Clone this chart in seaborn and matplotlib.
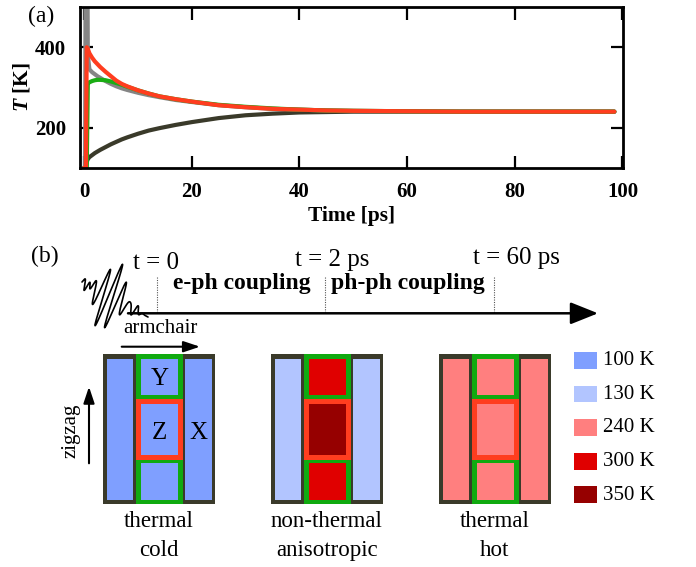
import numpy as np
import pandas as pd
import matplotlib
matplotlib.use("Agg")
import matplotlib.pyplot as plt
import seaborn as sns
from matplotlib.patches import Rectangle

# ---------------- panel (a) data ----------------
time_ps = [0, 0.2, 0.35, 0.5, 0.7, 1, 1.5, 2, 2.5, 3, 4, 5, 6, 7, 8, 10, 12, 14,
           17, 20, 25, 30, 35, 40, 45, 50, 60, 70, 80, 90, 98.5]
T_electrons = [100, 100, 1000, 1000, 380, 345, 338, 333, 328, 324, 316, 309, 303, 298,
               294, 287, 281, 276, 269, 264, 256, 251, 247, 245, 243, 242, 241, 240,
               240, 240, 240]
T_X = [100, 100, 100, 115, 122, 127, 132, 137, 141, 145, 152, 159, 165, 171, 176,
       185, 193, 199, 207, 214, 224, 231, 235, 238, 239, 240, 240, 240, 240, 240, 240]
T_Y = [100, 100, 100, 100, 310, 313, 316, 318, 319, 319, 318, 315, 311, 307, 302,
       293, 285, 278, 271, 265, 257, 252, 248, 245, 243, 242, 241, 240, 240, 240, 240]
T_Z = [100, 100, 100, 400, 396, 385, 374, 365, 358, 351, 339, 328, 317, 309, 303,
       293, 285, 278, 271, 265, 256, 251, 247, 245, 243, 242, 241, 240, 240, 240, 240]
series_names = ["X", "electrons", "Y", "Z"]
series_colors = {"X": "#3a3a2a", "electrons": "#858585", "Y": "#1aad14", "Z": "#ff3d1f"}
x_ticks = [0, 20, 40, 60, 80, 100]
y_ticks = [200, 400]

# ---------------- panel (b) data ----------------
state_line1 = ["thermal", "non-thermal", "thermal"]
state_line2 = ["cold", "anisotropic", "hot"]
temp_X = [100, 130, 240]
temp_Y = [100, 300, 240]
temp_Z = [100, 350, 240]
legend_temps = [100, 130, 240, 300, 350]
legend_colors = ["#7f9fff", "#b2c5ff", "#ff7f7f", "#e00000", "#960000"]
time_labels = ["t = 0", "t = 2 ps", "t = 60 ps"]
stage_labels = ["e-ph coupling", "ph-ph coupling"]

temp_color = dict(zip(legend_temps, legend_colors))

sns.set_style("ticks")
plt.rcParams["font.family"] = ["Liberation Serif", "DejaVu Serif"]
plt.rcParams["mathtext.fontset"] = "custom"
plt.rcParams["mathtext.rm"] = "Liberation Serif"
plt.rcParams["mathtext.it"] = "Liberation Serif:italic"
plt.rcParams["mathtext.bf"] = "Liberation Serif:bold"
plt.rcParams["mathtext.bfit"] = "Liberation Serif:italic:bold"
for key in ["text.color", "axes.labelcolor", "xtick.color", "ytick.color",
            "axes.edgecolor"]:
    plt.rcParams[key] = "black"

fig = plt.figure(figsize=(6.96, 5.67), dpi=100)
W, H = 696, 567

# ---------------- panel (a) ----------------
ax = fig.add_axes([80 / W, 1 - 168 / H, (623 - 80) / W, (168 - 7) / H])
ax.set_zorder(2)
df = pd.DataFrame({
    "time": time_ps * 4,
    "T": T_X + T_electrons + T_Y + T_Z,
    "series": sum([[n] * len(time_ps) for n in ["X", "electrons", "Y", "Z"]], []),
})
sns.lineplot(data=df, x="time", y="T", hue="series", hue_order=series_names,
             palette=series_colors, linewidth=3.0, legend=False, sort=False,
             ax=ax, solid_capstyle="round")
ax.set_xlim(-0.75, 100.1)
ax.set_ylim(100, 500)
ax.set_xticks(x_ticks)
ax.set_yticks(y_ticks)
ax.tick_params(direction="in", length=9, width=1.6, top=True, right=True,
               labelsize=15, pad=10)
for lab in ax.get_xticklabels() + ax.get_yticklabels():
    lab.set_fontweight("bold")
for s in ax.spines.values():
    s.set_linewidth(2.0)
ax.set_xlabel("Time [ps]", fontsize=15.5, fontweight="bold", labelpad=3)
ax.set_ylabel(r"$\mathbfit{T}$ [K]", fontsize=15.5, fontweight="bold", labelpad=2)

# ---------------- panel (b) (pixel coordinates) ----------------
bx = fig.add_axes([0, 0, 1, 1])
bx.set_zorder(1)
bx.set_xlim(0, W)
bx.set_ylim(H, 0)
bx.axis("off")
bx.patch.set_alpha(0)

bx.text(41, 16, "(a)", fontsize=17, ha="center", va="center")
bx.text(45, 256, "(b)", fontsize=17, ha="center", va="center")

# timeline
bx.annotate("", xy=(598, 313.3), xytext=(128, 313.3),
            arrowprops=dict(arrowstyle="-|>,head_length=1.0,head_width=0.4",
                            lw=1.8, color="black", mutation_scale=17,
                            shrinkA=0, shrinkB=0))
for xm in [157.3, 325, 494.3]:
    bx.plot([xm, xm], [277, 313], color="#555555", lw=0.8, ls=(0, (1, 1.2)))
for lab, (xl, yb) in zip(time_labels, [(133, 269), (295, 266), (473, 264)]):
    bx.text(xl, yb, lab, fontsize=18, ha="left", va="baseline")
for lab, xl in zip(stage_labels, [173, 331]):
    bx.text(xl, 288.5, lab, fontsize=17, fontweight="bold", ha="left", va="baseline")

# laser pulse glyph
s = np.linspace(0, 1, 1500)
env = np.exp(-((s - 0.42) / 0.2) ** 2)
osc = env * np.sin(2 * np.pi * 7.5 * s) \
    + 0.2 * np.sin(2 * np.pi * 12 * s) * np.exp(-((s - 0.08) / 0.07) ** 2) \
    + 0.15 * np.sin(2 * np.pi * 10 * s) * np.exp(-((s - 0.8) / 0.08) ** 2)
px = 82 + 66 * s + 12 * osc
py = 282 + 35 * s - 33 * osc
bx.plot(px, py, color="black", lw=1.2)

# direction arrows
bx.text(160, 333, "armchair", fontsize=15, ha="center", va="baseline")
bx.annotate("", xy=(200, 346.7), xytext=(121.7, 346.7),
            arrowprops=dict(arrowstyle="-|>,head_length=0.9,head_width=0.3",
                            lw=1.5, color="black", mutation_scale=11,
                            shrinkA=0, shrinkB=0))
bx.annotate("", xy=(89, 386.7), xytext=(89, 463.3),
            arrowprops=dict(arrowstyle="-|>,head_length=0.9,head_width=0.3",
                            lw=1.5, color="black", mutation_scale=11,
                            shrinkA=0, shrinkB=0))
bx.text(71, 431, "zigzag", fontsize=15, rotation=90, ha="center", va="center")

# cells
frame_c = "#3a3a2a"
green_c = "#10aa10"
red_c = "#ff3d1f"
y0, hgt, wid = 354.3, 150.0, 112.5
for i, x0 in enumerate([102.5, 270.5, 438.5]):
    cX, cY, cZ = temp_color[temp_X[i]], temp_color[temp_Y[i]], temp_color[temp_Z[i]]
    bx.add_patch(Rectangle((x0, y0), wid, hgt, fc=frame_c, ec="none"))
    bx.add_patch(Rectangle((x0 + 4.4, 359.3), 26.0, 140.7, fc=cX, ec="none"))
    bx.add_patch(Rectangle((x0 + 82.7, 359.3), 26.7, 140.7, fc=cX, ec="none"))
    bx.add_patch(Rectangle((x0 + 33.7, y0), 46.3, hgt, fc=green_c, ec="none"))
    bx.add_patch(Rectangle((x0 + 33.7, 399.0), 46.3, 61.0, fc=red_c, ec="none"))
    bx.add_patch(Rectangle((x0 + 38.4, 359.3), 36.6, 36.0, fc=cY, ec="none"))
    bx.add_patch(Rectangle((x0 + 38.4, 404.0), 36.6, 51.0, fc=cZ, ec="none"))
    bx.add_patch(Rectangle((x0 + 38.4, 463.3), 36.6, 36.7, fc=cY, ec="none"))
    xc = x0 + wid / 2
    bx.text(xc, 527, state_line1[i], fontsize=16.5, ha="center", va="baseline")
    bx.text(xc, 556, state_line2[i], fontsize=16.5, ha="center", va="baseline")
    if i == 0:
        bx.text(x0 + 56.8, 385, "Y", fontsize=18, ha="center", va="baseline")
        bx.text(x0 + 56.8, 439, "Z", fontsize=18, ha="center", va="baseline")
        bx.text(x0 + 96, 439, "X", fontsize=18, ha="center", va="baseline")

# legend
for k, (tv, col) in enumerate(zip(legend_temps, legend_colors)):
    yt = 352 + 33.6 * k
    bx.add_patch(Rectangle((574, yt), 23, 16.8, fc=col, ec="none"))
    bx.text(603, yt + 8.6, f"{tv} K", fontsize=15, ha="left", va="center")

fig.savefig("out.png", dpi=100)
